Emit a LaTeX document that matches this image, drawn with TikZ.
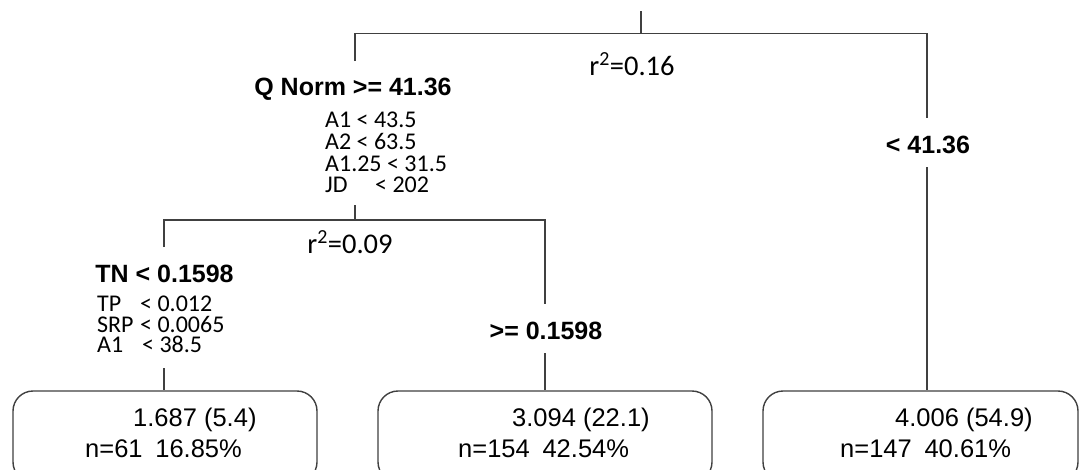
\documentclass[tikz,border=0pt]{standalone}
\usepackage{fontspec}
\setmainfont{Liberation Sans}
\newfontfamily\calib{Carlito}
\begin{document}
\begin{tikzpicture}[x=1pt,y=-1pt,
  edge/.style={draw=black!75, line width=1.6pt},
  leaf/.style={draw=black!75, line width=1.4pt, rounded corners=20pt, inner sep=0pt},
  split/.style={font=\bfseries\fontsize{25}{30}\selectfont, inner sep=0pt, anchor=base},
  cond/.style={font=\calib\fontsize{24}{21.7}\selectfont, align=left, inner sep=0pt, anchor=north west},
  rsq/.style={font=\calib\fontsize{28.5}{30}\selectfont, inner sep=0pt, anchor=base},
  val/.style={font=\fontsize{25.5}{30}\selectfont, inner sep=0pt, anchor=base west}]
\useasboundingbox (0,0) rectangle (1082,469);
\clip (0,0) rectangle (1082,469);
\fill[white] (0,0) rectangle (1082,469);

% split labels
\node[split] (q) at (353,95) {Q Norm >= 41.36};
\node[split] (lt) at (928,153) {< 41.36};
\node[split] (tn) at (164.5,282) {TN < 0.1598};
\node[split] (ge) at (546,339) {>= 0.1598};
\node[rsq] (r1) at (632,75) {r\textsuperscript{2}=0.16};
\node[rsq] (r2) at (350,253) {r\textsuperscript{2}=0.09};

% condition lists
\node[cond] (c1) at (325,112) {A1 < 43.5\\A2 < 63.5\\A1.25 < 31.5\\\makebox[50pt][l]{JD}< 202};
\node[cond, font=\calib\fontsize{24}{20.6}\selectfont] (c2) at (97,296) {\makebox[43pt][l]{TP}< 0.012\\\makebox[43pt][l]{SRP}< 0.0065\\\makebox[45pt][l]{A1}< 38.5};

% leaves
\node[leaf, minimum width=304pt, minimum height=91pt] (b1) at (165,436.5) {};
\node[leaf, minimum width=334pt, minimum height=91pt] (b2) at (545,436.5) {};
\node[leaf, minimum width=315pt, minimum height=91pt] (b3) at (920.5,436.5) {};
\node[val] (v1) at (133,426) {1.687 (5.4)};
\node[val] (n1) at (85,457) {n=61\hspace{0.5em}16.85\%};
\node[val] (v2) at (512,426) {3.094 (22.1)};
\node[val] (n2) at (458,457) {n=154\hspace{0.5em}42.54\%};
\node[val] (v3) at (895,426) {4.006 (54.9)};
\node[val] (n3) at (840,457) {n=147\hspace{0.5em}40.61\%};

% connector end points
\coordinate (top) at (641,11);
\coordinate (s1) at (641,33.5);
\coordinate (qin) at (355,61);
\coordinate (ltin) at (927,118);
\coordinate (ltout) at (927,167);
\coordinate (c1out) at (355,205);
\coordinate (s2) at (355,220);
\coordinate (tnin) at (164,247);
\coordinate (tnout) at (164,368);
\coordinate (gein) at (545,304);
\coordinate (geout) at (545,353);

\draw[edge] (top) -- (s1);
\draw[edge] (qin) |- (s1) -| (ltin);
\draw[edge] (c1out) -- (s2);
\draw[edge] (tnin) |- (s2) -| (gein);
\draw[edge] (tnout) -- (tnout |- b1.north);
\draw[edge] (geout) -- (geout |- b2.north);
\draw[edge] (ltout) -- (ltout |- b3.north);
\end{tikzpicture}
\end{document}
